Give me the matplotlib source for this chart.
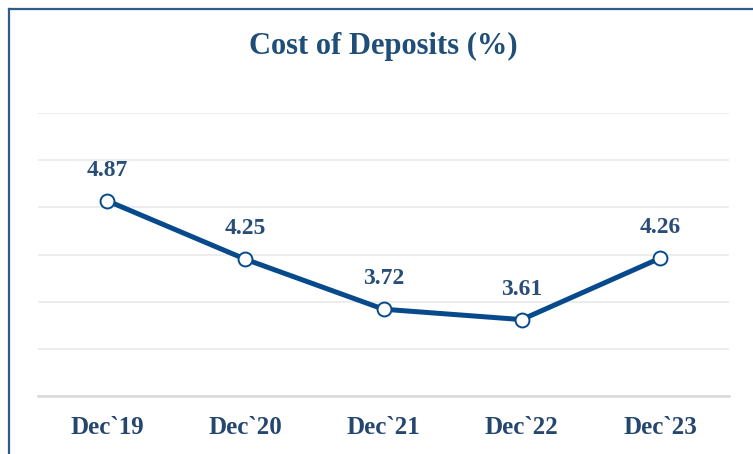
import matplotlib.pyplot as plt
from matplotlib.lines import Line2D

# Cost of deposits by year end
periods = ["Dec`19", "Dec`20", "Dec`21", "Dec`22", "Dec`23"]
cost = [4.87, 4.25, 3.72, 3.61, 4.26]

plt.rcParams['font.family'] = ['Liberation Serif', 'DejaVu Serif']

fig = plt.figure(figsize=(7.53, 4.54), dpi=100)
ax = fig.add_axes([38 / 753, 1 - 396 / 454, (729 - 38) / 753, (396 - 113) / 454])

x = range(len(periods))
ax.plot(x, cost, color='#064a8c', lw=3.6, marker='o', ms=10,
        mfc='white', mec='#064a8c', mew=1.4, zorder=3)

for xi, v in zip(x, cost):
    ax.annotate(f"{v:.2f}", (xi, v), xytext=(0, 22), textcoords='offset points',
                ha='center', va='center', fontsize=17, fontweight='bold',
                color='#2a4d78')

ax.set_xlim(-0.5, 4.5)
ax.set_ylim(2.8, 5.8)
ax.set_yticks([2.8 + 0.5 * i for i in range(7)])
ax.set_yticklabels([])
ax.tick_params(axis='y', length=0)
ax.tick_params(axis='x', length=0, pad=14.5)
ax.set_xticks(list(x))
ax.set_xticklabels(periods, fontsize=18, fontweight='bold', color='#24466f')
ax.grid(axis='y', color='#ececec', lw=1.3)
ax.set_axisbelow(True)
for s in ['left', 'right', 'top']:
    ax.spines[s].set_visible(False)
ax.spines['bottom'].set_color('#d9d9d9')
ax.spines['bottom'].set_linewidth(1.8)

fig.text(383 / 753, 1 - 46 / 454, "Cost of Deposits (%)", ha='center', va='center',
         fontsize=22, fontweight='bold', color='#1f4e79')

# outer frame (left and top edges visible)
fig.add_artist(Line2D([9 / 753, 9 / 753], [0, 1 - 9 / 454], transform=fig.transFigure,
                      color='#2f5a8a', lw=1.6))
fig.add_artist(Line2D([9 / 753, 1], [1 - 9 / 454, 1 - 9 / 454], transform=fig.transFigure,
                      color='#2f5a8a', lw=1.6))

fig.savefig('out.png', dpi=100)
